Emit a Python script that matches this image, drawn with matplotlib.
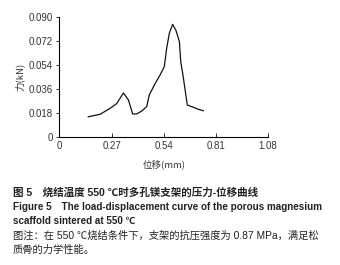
import matplotlib
matplotlib.use("Agg")
import matplotlib.pyplot as plt

plt.rcParams["font.family"] = ["Liberation Sans", "Noto Sans CJK SC", "DejaVu Sans"]

# load-displacement curve
disp = [0.149, 0.21, 0.262, 0.296, 0.331, 0.357, 0.379, 0.40, 0.426, 0.452,
        0.465, 0.495, 0.521, 0.543, 0.555, 0.569, 0.586, 0.603, 0.621, 0.628,
        0.641, 0.662, 0.693, 0.719, 0.745]
load = [0.0152, 0.017, 0.0215, 0.025, 0.033, 0.0278, 0.0173, 0.0173, 0.0195, 0.0228,
        0.0315, 0.040, 0.0465, 0.0528, 0.0665, 0.0778, 0.0845, 0.080, 0.0715, 0.0565,
        0.045, 0.024, 0.0223, 0.0208, 0.0197]
xticks = [0, 0.27, 0.54, 0.81, 1.08]
yticks = [0, 0.018, 0.036, 0.054, 0.072, 0.090]
xlabels = ["0", "0.27", "0.54", "0.81", "1.08"]
ylabels = ["0", "0.018", "0.036", "0.054", "0.072", "0.090"]

W, H = 340, 265
fig = plt.figure(figsize=(W / 100, H / 100), dpi=100)
ax = fig.add_axes([59.5 / W, (H - 137) / H, (268 - 59.5) / W, 120 / H])
ax.plot(disp, load, color="#111", lw=0.9)
ax.set_xlim(0, 1.08)
ax.set_ylim(0, 0.090)
ax.set_xticks(xticks)
ax.set_xticklabels(xlabels)
ax.set_yticks(yticks)
ax.set_yticklabels(ylabels)
for s in ["top", "right"]:
    ax.spines[s].set_visible(False)
for s in ["left", "bottom"]:
    ax.spines[s].set_linewidth(0.8)
ax.tick_params(axis="x", direction="in", length=3, width=0.7, labelsize=7, pad=3, colors="#333")
ax.tick_params(axis="y", direction="out", length=2.5, width=0.7, labelsize=7, pad=2, colors="#333")
ax.set_xlabel("位移(mm)", fontsize=6.8, labelpad=7, color="#333",
              family=["Noto Sans CJK SC", "DejaVu Sans"])
ax.set_ylabel("力(kN)", fontsize=6.8, labelpad=3, color="#333",
              family=["Noto Sans CJK SC", "DejaVu Sans"])

cap = ["图 5\u3000烧结温度 550 ℃时多孔镁支架的压力-位移曲线",
       "Figure 5\u3000The load-displacement curve of the porous magnesium",
       "scaffold sintered at 550 ℃",
       "图注：在 550 ℃烧结条件下，支架的抗压强度为 0.87 MPa，满足松",
       "质骨的力学性能。"]
ys = [193, 207, 221, 236, 250]
wts = ["bold", "bold", "bold", "normal", "normal"]
sizes = [7.6, 7.1, 7.1, 7.4, 7.4]
for t, y, w, fs in zip(cap, ys, wts, sizes):
    fig.text(13 / W, 1 - y / H, t, fontsize=fs, va="center", ha="left",
             color="#222", weight=w,
             family=["Liberation Sans", "Noto Sans CJK SC", "DejaVu Sans"])

fig.savefig("out.png", dpi=100)
